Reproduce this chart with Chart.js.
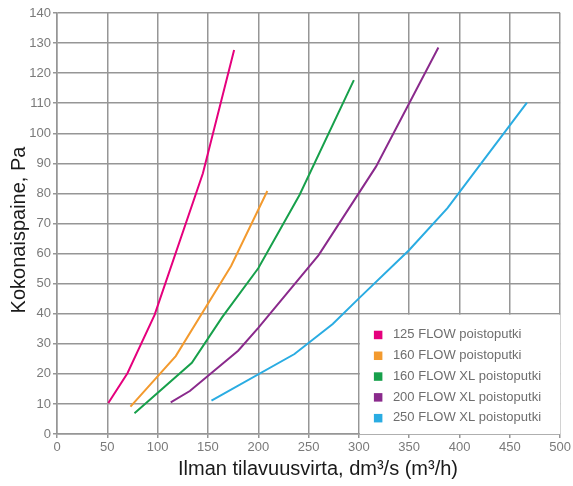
<!DOCTYPE html>
<html><head><meta charset="utf-8">
<script src="https://cdn.jsdelivr.net/npm/chart.js@4/dist/chart.umd.min.js"></script>
<style>html,body{margin:0;padding:0;background:#fff}</style>
</head><body>
<canvas id="c" width="573" height="486"></canvas>
<script>
const seriesNames = ["125 FLOW poistoputki","160 FLOW poistoputki","160 FLOW XL poistoputki","200 FLOW XL poistoputki","250 FLOW XL poistoputki"];
const flow125x = [51, 70, 97, 145, 176];
const flow125y = [10.3, 20.2, 39.6, 86.7, 127.7];
const flow160x = [73, 118, 173, 209];
const flow160y = [9.1, 25.9, 55.9, 80.8];
const flow160XLx = [77, 134, 164, 200, 241, 295];
const flow160XLy = [6.9, 23.7, 38.8, 55.1, 79.5, 117.7];
const flow200XLx = [113, 132, 180, 200, 260, 317, 379];
const flow200XLy = [10.5, 14.3, 27.7, 35.3, 59.5, 88.9, 128.5];
const flow250XLx = [153.5, 236, 274, 300, 350, 388, 467];
const flow250XLy = [11.1, 26.6, 36.6, 45.1, 61.2, 75.1, 110.2];
const colors = ["#e5007d","#f39a2e","#17a04b","#8a2a8c","#2aace2"];
const xTicks = [0,50,100,150,200,250,300,350,400,450,500];
const yTicks = [0,10,20,30,40,50,60,70,80,90,100,110,120,130,140];
const xTitle = 'Ilman tilavuusvirta, dm³/s (m³/h)';
const yTitle = 'Kokonaispaine, Pa';

const xs = [flow125x, flow160x, flow160XLx, flow200XLx, flow250XLx];
const ys = [flow125y, flow160y, flow160XLy, flow200XLy, flow250XLy];
const datasets = seriesNames.map((n,i)=>({
  label:n,
  data: xs[i].map((x,k)=>({x:x,y:ys[i][k]})),
  borderColor: colors[i], backgroundColor: colors[i],
  borderWidth: 2, pointRadius: 0, tension: 0, fill:false
}));
const FONT = '"Liberation Sans", Arial, sans-serif';

const legendPlugin = {
  id:'boxLegend',
  afterDatasetsDraw(chart){
    const ctx = chart.ctx, xs_ = chart.scales.x, ys_ = chart.scales.y;
    const l = xs_.getPixelForValue(300), r = xs_.getPixelForValue(500);
    const t = ys_.getPixelForValue(40), b = ys_.getPixelForValue(0);
    ctx.save();
    ctx.fillStyle = '#fff';
    ctx.fillRect(l+1, t+1, r-l-1, b-t-1);
    ctx.font = '13px ' + FONT;
    ctx.textBaseline = 'middle';
    chart.data.datasets.forEach((d,i)=>{
      const yy = t + 21 + i*20.8;
      ctx.fillStyle = d.borderColor;
      ctx.fillRect(l+15, yy-4, 8.5, 8.5);
      ctx.fillStyle = '#6e6e6e';
      ctx.fillText(d.label, l+34, yy);
    });
    // axis titles
    ctx.fillStyle = '#1a1a1a';
    ctx.font = '20px ' + FONT;
    ctx.textAlign = 'center';
    ctx.textBaseline = 'middle';
    ctx.fillText(xTitle, 318, 469);
    ctx.translate(19, 230);
    ctx.rotate(-Math.PI/2);
    ctx.fillText(yTitle, 0, 0);
    ctx.restore();
  }
};

new Chart(document.getElementById('c'), {
  type:'line',
  data:{datasets},
  options:{
    responsive:false, animation:false,
    layout:{padding:{top:13,right:12,left:0,bottom:0}},
    plugins:{legend:{display:false}, tooltip:{enabled:false}},
    scales:{
      x:{type:'linear', min:0, max:500,
        afterBuildTicks(s){ s.ticks = xTicks.map(v=>({value:v})); },
        afterFit(s){ s.height = 52; },
        grid:{color:'#969696', lineWidth:1.5, tickLength:4, drawTicks:true},
        border:{color:'#969696', width:1.5},
        ticks:{color:'#7a7a7a', font:{family:FONT, size:13}, padding:2, maxRotation:0}
      },
      y:{type:'linear', min:0, max:140,
        afterBuildTicks(s){ s.ticks = yTicks.map(v=>({value:v})); },
        afterFit(s){ s.width = 57; },
        grid:{color:'#969696', lineWidth:1.5, tickLength:4},
        border:{color:'#969696', width:1.5},
        ticks:{color:'#7a7a7a', font:{family:FONT, size:13}, padding:2}
      }
    }
  },
  plugins:[legendPlugin]
});
</script>
</body></html>
